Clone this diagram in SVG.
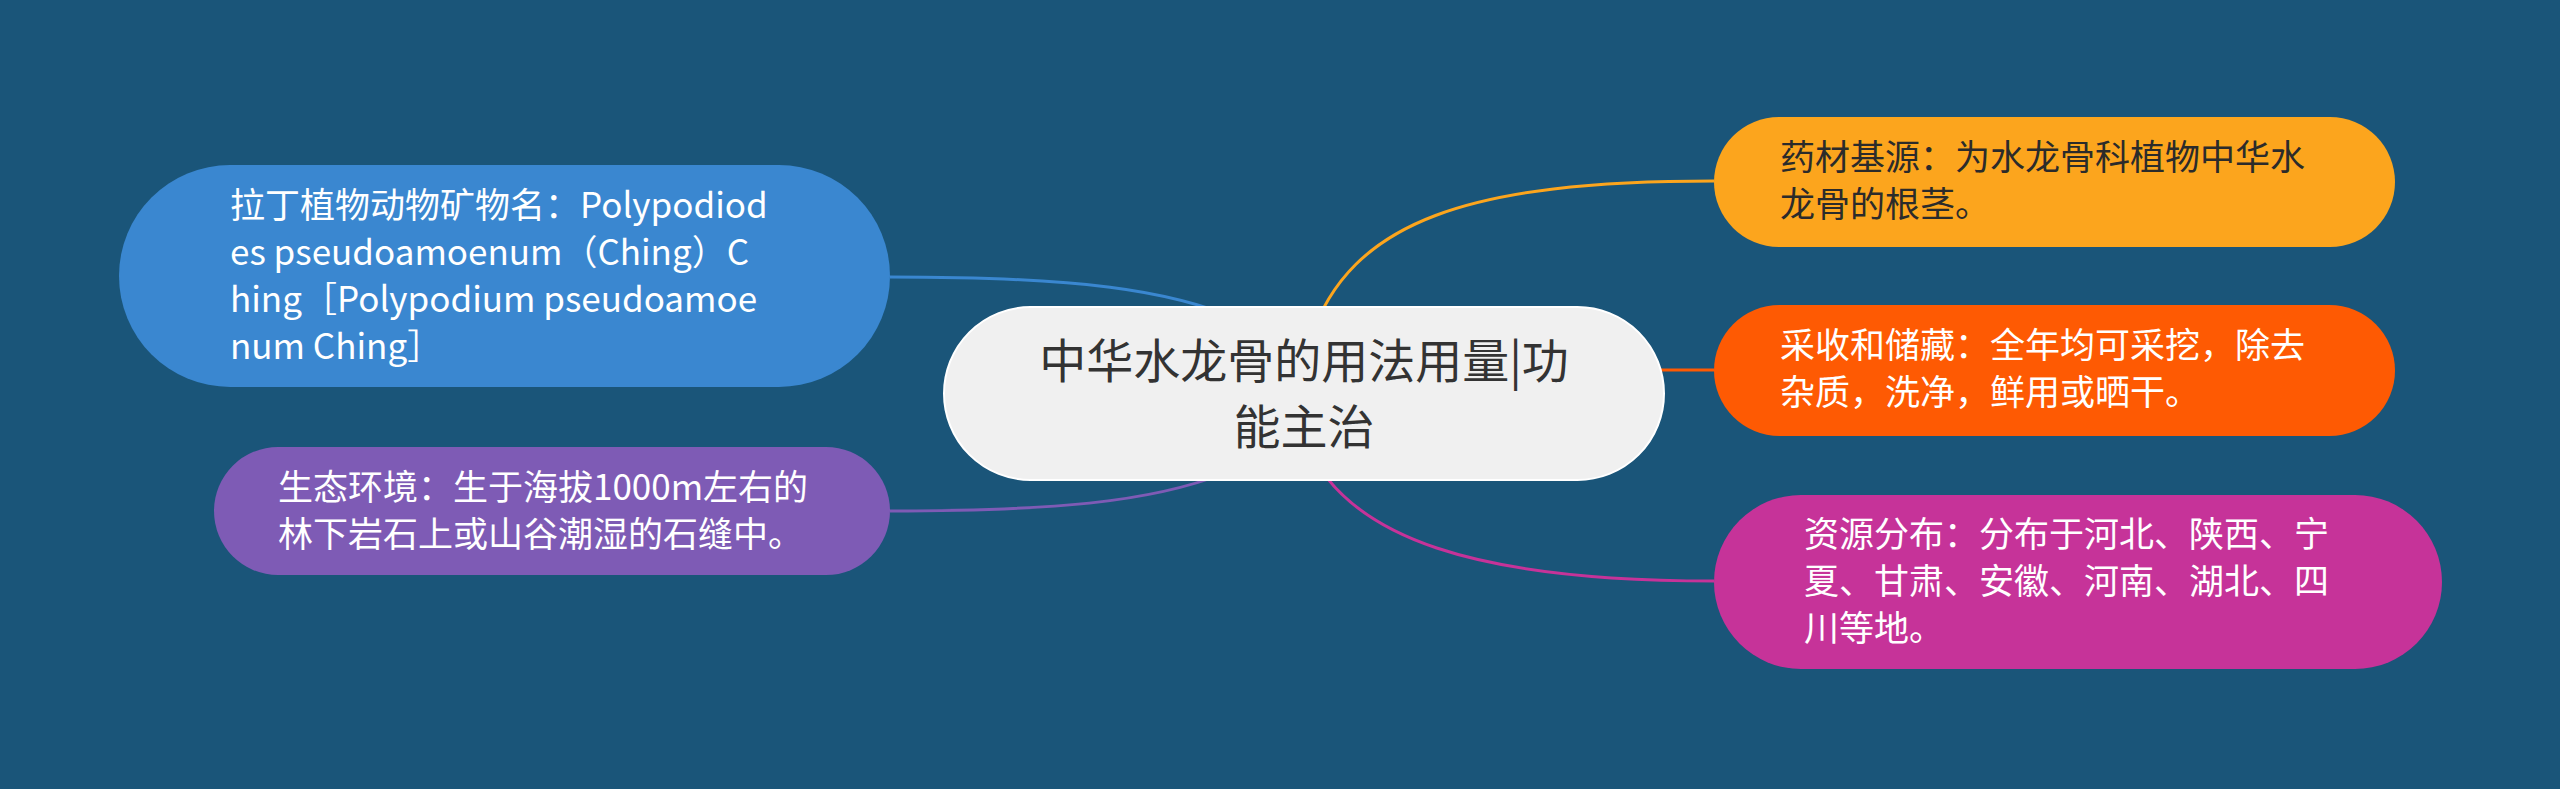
<svg xmlns="http://www.w3.org/2000/svg" width="2560" height="789" viewBox="0 0 2560 789">
<style>
.t{font-family:"Noto Sans CJK SC","Microsoft YaHei",sans-serif;font-size:35px;fill:#ffffff}
.dark{fill:#2b2b2b}
.c{font-family:"Noto Sans CJK SC","Microsoft YaHei",sans-serif;font-size:47px;fill:#333333;text-anchor:middle}
.ln{fill:none;stroke-width:3}
</style>
<rect width="2560" height="789" fill="#1a5579"/>
<g id="connectors">
<path class="ln" stroke="#3a87d0" d="M890 277 C1080 277 1170 290 1240 320"/>
<path class="ln" stroke="#7e5bb5" d="M890 511 C1080 511 1170 498 1240 467"/>
<path class="ln" stroke="#fca51d" d="M1310 340 C1350 220 1470 181 1714 181"/>
<path class="ln" stroke="#fe5a03" d="M1304 370 L1714 370"/>
<path class="ln" stroke="#c63399" d="M1305 440 C1345 540 1480 581 1714 581"/>
</g>
<g id="center">
<rect x="944" y="307" width="720" height="173" rx="86.5" fill="#f0f0f0" stroke="#ffffff" stroke-width="2"/>
<text class="c"><tspan x="1304" y="378">中华水龙骨的用法用量|功</tspan><tspan x="1304" y="444">能主治</tspan></text>
</g>
<g id="latin-name">
<rect x="119" y="165" width="771" height="222" rx="111" fill="#3a87d0"/>
<text class="t"><tspan x="230" y="218">拉丁植物动物矿物名：Polypodiod</tspan><tspan x="230" y="265">es pseudoamoenum（Ching）C</tspan><tspan x="230" y="312">hing［Polypodium pseudoamoe</tspan><tspan x="230" y="359">num Ching］</tspan></text>
</g>
<g id="ecology">
<rect x="214" y="447" width="676" height="128" rx="64" fill="#7e5bb5"/>
<text class="t"><tspan x="278" y="500">生态环境：生于海拔1000m左右的</tspan><tspan x="278" y="547">林下岩石上或山谷潮湿的石缝中。</tspan></text>
</g>
<g id="source">
<rect x="1714" y="117" width="681" height="130" rx="65" fill="#fca51d"/>
<text class="t dark"><tspan x="1780" y="170">药材基源：为水龙骨科植物中华水</tspan><tspan x="1780" y="217">龙骨的根茎。</tspan></text>
</g>
<g id="harvest">
<rect x="1714" y="305" width="681" height="131" rx="65.5" fill="#fe5a03"/>
<text class="t"><tspan x="1780" y="358">采收和储藏：全年均可采挖，除去</tspan><tspan x="1780" y="405">杂质，洗净，鲜用或晒干。</tspan></text>
</g>
<g id="distribution">
<rect x="1714" y="495" width="728" height="174" rx="87" fill="#c63399"/>
<text class="t"><tspan x="1804" y="547">资源分布：分布于河北、陕西、宁</tspan><tspan x="1804" y="594">夏、甘肃、安徽、河南、湖北、四</tspan><tspan x="1804" y="641">川等地。</tspan></text>
</g>
</svg>
